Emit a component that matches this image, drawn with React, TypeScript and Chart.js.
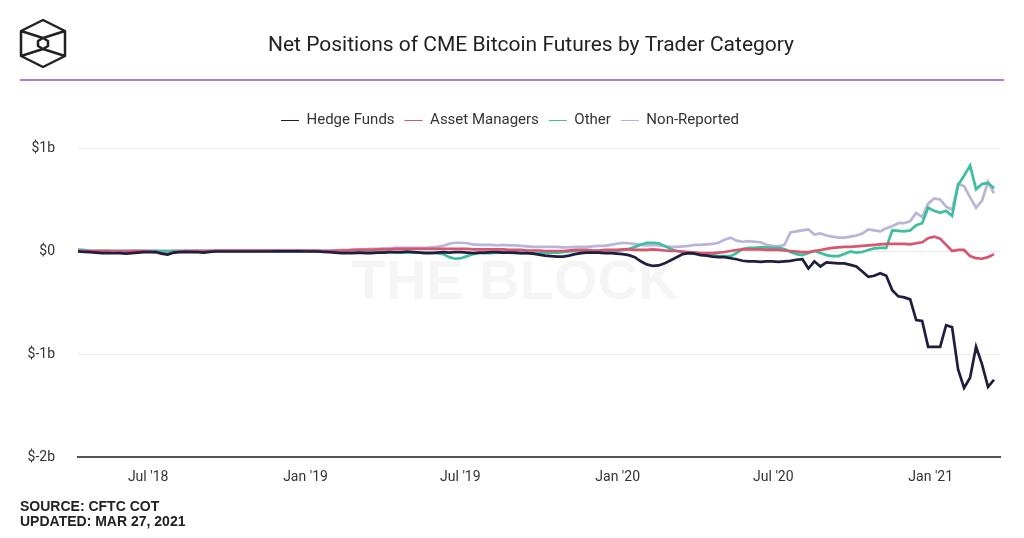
import { useEffect, useRef } from "react"
import { Chart, registerables } from "chart.js"

Chart.register(...registerables)

// weekly COT reports, values in $ millions
const startDate = Date.UTC(2018, 3, 10)
const dayMs = 86400000

const hedgeFunds = [
  -5, -8, -10, -15, -20, -20, -22, -20, -25, -20, -15,
  -10, -10, -10, -25, -35, -15, -10, -8, -10, -10,
  -15, -8, -5, -5, -5, -5, -5, -5, -5, -5,
  -5, -5, -3, -3, -3, -3, -3, -5, -5, -5,
  -8, -10, -15, -20, -20, -20, -15, -20, -20, -15,
  -15, -10, -10, -10, -5, -10, -15, -20, -20, -15,
  -10, -15, -10, -10, -15, -20, -15, -15, -10, -10,
  -15, -15, -15, -20, -20, -25, -35, -45, -50, -55,
  -55, -45, -30, -20, -15, -15, -15, -20, -20, -25,
  -30, -40, -60, -100, -130, -145, -140, -120, -90, -60,
  -30, -20, -25, -40, -45, -55, -60, -60, -70, -80,
  -95, -100, -100, -105, -100, -100, -105, -100, -95, -85,
  -80, -170, -100, -150, -110, -115, -120, -120, -135, -150,
  -200, -250, -240, -215, -240, -380, -440, -450, -470, -670,
  -680, -930, -930, -930, -720, -740, -1150, -1330, -1230, -930, -1100, -1320, -1250,
]

const assetManagers = [
  0, 0, 0, 0, 0, 0, -5, -5, -5, 0, 0,
  0, -5, -10, -25, -30, -10, -5, 0, 0, 0,
  0, 0, 5, 5, 5, 5, 5, 5, 5, 5,
  5, 5, 5, 5, 5, 5, 5, 5, 5, 5,
  0, 0, 5, 5, 5, 10, 10, 10, 10, 15,
  15, 15, 20, 20, 20, 20, 20, 20, 20, 20,
  20, 20, 20, 20, 20, 15, 15, 15, 15, 15,
  15, 10, 10, 10, 5, 5, 5, 0, 0, 0,
  0, 5, 10, 10, 10, 5, 5, 10, 10, 10,
  15, 15, 10, 10, 10, 15, 10, 5, 0, 0,
  -5, -10, -15, -20, -20, -20, -15, -10, 0, 10,
  15, 15, 15, 15, 10, 10, 10, 5, 0, -5,
  -10, -10, 0, 10, 20, 30, 35, 40, 40, 45,
  50, 55, 60, 65, 70, 70, 70, 70, 65, 75,
  85, 125, 140, 120, 60, 0, 10, 10, -50, -70, -75, -60, -30,
]

const other = [
  10, 5, 0, 0, 0, 0, 0, 0, 0, 0, 0,
  0, 0, 0, -5, -5, 0, 0, 0, 0, 0,
  0, 0, 0, 0, 0, 0, 0, 0, 0, 0,
  0, 0, 0, 0, 0, 0, 0, 0, -5, -5,
  -5, -5, -5, -5, -5, -10, -10, -10, -10, -10,
  -10, -10, -15, -15, -15, -15, -15, -15, -15, -20,
  -30, -60, -75, -70, -50, -30, -20, -20, -20, -15,
  -15, -15, -20, -20, -20, -20, -20, -20, -15, -15,
  -10, -5, 0, 0, 0, 0, 0, 5, 5, 0,
  10, 20, 40, 60, 80, 80, 75, 50, 20, 0,
  -10, -15, -20, -30, -35, -40, -50, -50, -50, -20,
  20, 30, 30, 35, 35, 30, 30, 20, -10, -30,
  -40, -20, 0, -20, -40, -50, -50, -30, -5, -15,
  -10, 10, 25, 30, 30, 200, 195, 190, 200, 250,
  270, 420, 390, 370, 390, 340, 640, 730, 830, 600, 650, 660, 610,
]

const nonReported = [
  15, 10, 5, 5, 5, 5, 5, 5, 5, 5, 5,
  5, 5, 5, 5, 5, 5, 5, 5, 5, 5,
  5, 5, 5, 5, 5, 5, 5, 5, 5, 5,
  5, 5, 5, 5, 5, 5, 5, 5, 5, 5,
  5, 5, 5, 10, 10, 10, 15, 15, 20, 20,
  25, 25, 30, 30, 30, 30, 30, 30, 35, 40,
  50, 70, 80, 80, 75, 65, 60, 60, 60, 55,
  60, 55, 55, 50, 45, 40, 40, 40, 40, 40,
  35, 35, 40, 40, 40, 45, 50, 50, 60, 70,
  80, 75, 70, 60, 55, 60, 55, 45, 40, 40,
  45, 50, 60, 60, 65, 70, 80, 110, 130, 100,
  90, 95, 90, 85, 60, 50, 45, 60, 180, 190,
  200, 210, 160, 170, 150, 140, 130, 130, 140, 150,
  170, 210, 200, 190, 220, 240, 270, 270, 290, 370,
  330, 460, 510, 500, 430, 400, 650, 630, 520, 420, 490, 670, 560,
]

const weekDates = hedgeFunds.map((_, i) => startDate + i * 7 * dayMs)

const xTickDates = [
  Date.UTC(2018, 6, 1), Date.UTC(2019, 0, 1), Date.UTC(2019, 6, 1),
  Date.UTC(2020, 0, 1), Date.UTC(2020, 6, 1), Date.UTC(2021, 0, 1),
]
const xTickLabels = ["Jul '18", "Jan '19", "Jul '19", "Jan '20", "Jul '20", "Jan '21"]

const yTickValues = [1000, 0, -1000, -2000]
const yTickLabels = ["$1b", "$0", "$-1b", "$-2b"]

const toPoints = (vals: number[]) => vals.map((v, i) => ({ x: weekDates[i], y: v }))

const legendGap = {
  id: "legendGap",
  beforeInit(chart: any) {
    const legend = chart.legend
    if (!legend) return
    const fit = legend.fit
    legend.fit = function () {
      fit.call(legend)
      this.height += 10
    }
  },
}

const decorations = {
  id: "decorations",
  beforeDatasetsDraw(chart: any) {
    const { ctx } = chart
    ctx.save()
    ctx.font = "bold 56px 'Liberation Sans'"
    ctx.fillStyle = "rgba(0,0,0,0.04)"
    ctx.textAlign = "center"
    ctx.textBaseline = "middle"
    ctx.fillText("THE BLOCK", 515, 284)
    ctx.restore()
  },
  afterDraw(chart: any) {
    const { ctx } = chart
    ctx.save()
    // logo
    ctx.strokeStyle = "#222"
    ctx.lineWidth = 2.5
    ctx.lineJoin = "round"
    ctx.beginPath()
    const hex = [[43, 20], [65, 31], [65, 56], [43, 67], [21, 56], [21, 31]]
    hex.forEach(([x, y], i) => (i ? ctx.lineTo(x, y) : ctx.moveTo(x, y)))
    ctx.closePath()
    ctx.moveTo(21, 31); ctx.lineTo(43, 38); ctx.lineTo(65, 31)
    ctx.moveTo(21, 56); ctx.lineTo(43, 49); ctx.lineTo(65, 56)
    ctx.moveTo(43, 38); ctx.lineTo(48, 41); ctx.lineTo(48, 46); ctx.lineTo(43, 49)
    ctx.lineTo(38, 46); ctx.lineTo(38, 41); ctx.closePath()
    ctx.stroke()

    // title
    ctx.fillStyle = "#222"
    ctx.font = "21px Roboto"
    ctx.textAlign = "center"
    ctx.textBaseline = "middle"
    ctx.fillText("Net Positions of CME Bitcoin Futures by Trader Category", 531, 46)

    // header rule
    ctx.strokeStyle = "#a87bd8"
    ctx.lineWidth = 2
    ctx.beginPath()
    ctx.moveTo(20, 80)
    ctx.lineTo(1004, 80)
    ctx.stroke()
    ctx.strokeStyle = "#f2f2f2"
    ctx.lineWidth = 1
    ctx.beginPath()
    ctx.moveTo(20, 84)
    ctx.lineTo(1004, 84)
    ctx.stroke()

    // source
    ctx.fillStyle = "#222"
    ctx.font = "bold 14px 'Liberation Sans'"
    ctx.textAlign = "left"
    ctx.fillText("SOURCE: CFTC COT", 20, 507)
    ctx.fillText("UPDATED: MAR 27, 2021", 20, 522)
    ctx.restore()
  },
}

const App = () => {
  const canvasRef = useRef<HTMLCanvasElement>(null)

  useEffect(() => {
    document.body.style.margin = "0"
    if (!canvasRef.current) return
    Chart.defaults.font.family = "Roboto"

    const myChart = new Chart(canvasRef.current, {
      type: "line",
      data: {
        datasets: [
          { label: "Hedge Funds", data: toPoints(hedgeFunds), borderColor: "#1f1d40", backgroundColor: "#1f1d40" },
          { label: "Asset Managers", data: toPoints(assetManagers), borderColor: "#d9546f", backgroundColor: "#d9546f" },
          { label: "Other", data: toPoints(other), borderColor: "#3dbf9d", backgroundColor: "#3dbf9d" },
          { label: "Non-Reported", data: toPoints(nonReported), borderColor: "#b9b5da", backgroundColor: "#b9b5da" },
        ],
      },
      options: {
        responsive: false,
        animation: false,
        parsing: false,
        elements: {
          point: { radius: 0, hoverRadius: 0 },
          line: { borderWidth: 2.7, tension: 0 },
        },
        layout: { padding: { top: 103, left: 20, right: 24, bottom: 47 } },
        plugins: {
          title: { display: false },
          tooltip: { enabled: false },
          legend: {
            position: "top",
            labels: {
              usePointStyle: true,
              pointStyle: "line",
              pointStyleWidth: 18,
              padding: 10,
              color: "#333",
              font: { size: 15 },
            },
          },
        },
        scales: {
          x: {
            type: "linear",
            min: startDate,
            max: startDate + 1078 * dayMs,
            afterBuildTicks: (axis: any) => {
              axis.ticks = xTickDates.map((v) => ({ value: v }))
            },
            afterFit: (scale: any) => {
              scale.height = 34
            },
            ticks: {
              autoSkip: false,
              maxRotation: 0,
              padding: 12,
              color: "#333",
              font: { size: 14 },
              callback: (v: any) => xTickLabels[xTickDates.indexOf(Number(v))] ?? "",
            },
            grid: { display: false, drawTicks: false },
            border: { display: true, color: "#555", width: 2 },
          },
          y: {
            min: -2000,
            max: 1000,
            afterBuildTicks: (axis: any) => {
              axis.ticks = yTickValues.map((v) => ({ value: v }))
            },
            afterFit: (scale: any) => {
              scale.width = 58
            },
            ticks: {
              padding: 23,
              color: "#333",
              font: { size: 14 },
              callback: (v: any) => yTickLabels[yTickValues.indexOf(Number(v))] ?? "",
            },
            grid: { color: "#ebebeb", drawTicks: false },
            border: { display: false },
          },
        },
      },
      plugins: [legendGap, decorations],
    })

    return () => {
      myChart.destroy()
    }
  }, [])

  return (
    <div style={{ width: 1024, height: 538, background: "#fff" }}>
      <canvas ref={canvasRef} width={1024} height={538}></canvas>
    </div>
  )
}

export default App
